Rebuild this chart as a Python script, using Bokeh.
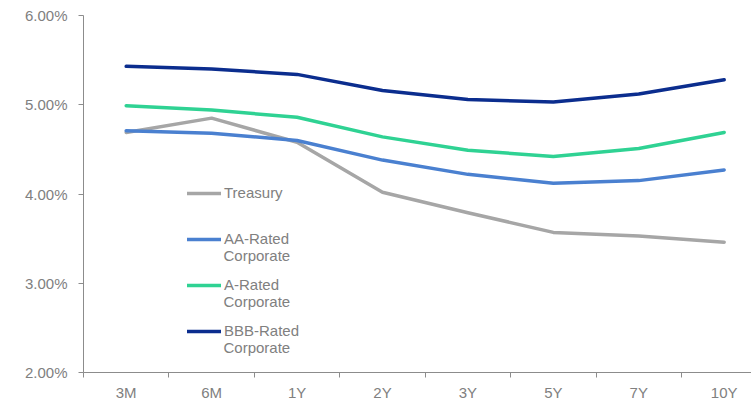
from bokeh.plotting import figure
from bokeh.models import Range1d, FixedTicker, PrintfTickFormatter, Legend, LegendItem, Label
from bokeh.embed import file_html
from bokeh.resources import INLINE

categories = ["3M", "6M", "1Y", "2Y", "3Y", "5Y", "7Y", "10Y"]
treasury = [4.69, 4.85, 4.58, 4.02, 3.79, 3.57, 3.53, 3.46]
aa_rated = [4.71, 4.68, 4.60, 4.38, 4.22, 4.12, 4.15, 4.27]
a_rated = [4.99, 4.94, 4.86, 4.64, 4.49, 4.42, 4.51, 4.69]
bbb_rated = [5.43, 5.40, 5.34, 5.16, 5.06, 5.03, 5.12, 5.28]
y_ticks = [2, 3, 4, 5, 6]

series = [
    ("Treasury", "", treasury, "#a6a6a6"),
    ("AA-Rated", "Corporate", aa_rated, "#4a80d0"),
    ("A-Rated", "Corporate", a_rated, "#2fd293"),
    ("BBB-Rated", "Corporate", bbb_rated, "#0b2d8e"),
]

xs = list(range(len(categories)))
FH = 357

p = figure(frame_width=668, frame_height=FH, output_backend="svg", toolbar_location=None,
           x_range=Range1d(-0.5, 7.32), y_range=Range1d(2, 6),
           min_border_left=83, min_border_right=0, min_border_top=15, min_border_bottom=0)
p.outline_line_color = None
p.xgrid.visible = False
p.ygrid.visible = False
p.background_fill_color = "white"
p.border_fill_color = "white"

axis_col = "#8c8c8c"
text_col = "#808080"
font = "Liberation Sans"
fs = "15px"

# x axis
p.xaxis.ticker = FixedTicker(ticks=xs, minor_ticks=[i - 0.5 for i in xs])
p.xaxis.major_label_overrides = {i: c for i, c in zip(xs, categories)}
p.xaxis.major_tick_out = 0
p.xaxis.major_tick_in = 0
p.xaxis.minor_tick_out = 5
p.xaxis.minor_tick_in = 0
p.xaxis.minor_tick_line_color = axis_col
p.xaxis.axis_line_color = axis_col
p.xaxis.major_label_text_color = text_col
p.xaxis.major_label_text_font = font
p.xaxis.major_label_text_font_size = fs
p.xaxis.major_label_standoff = 6

# y axis
p.yaxis.ticker = FixedTicker(ticks=y_ticks, minor_ticks=[])
p.yaxis.formatter = PrintfTickFormatter(format="%.2f%%")
p.yaxis.major_tick_out = 5
p.yaxis.major_tick_in = 0
p.yaxis.major_tick_line_color = axis_col
p.yaxis.axis_line_color = axis_col
p.yaxis.major_label_text_color = text_col
p.yaxis.major_label_text_font = font
p.yaxis.major_label_text_font_size = fs
p.yaxis.major_label_standoff = 11

# legend rows: pixel offset of each entry's line from the frame top
legend_rows = [177, 223, 269, 315]
for (name, second, vals, col), row in zip(series, legend_rows):
    r = p.line(xs, vals, line_color=col, line_width=3.5, line_join="round", line_cap="round")
    lg = Legend(items=[LegendItem(label=name, renderers=[r])],
                location=(104, FH - (row + 9)), orientation="vertical",
                background_fill_alpha=0, border_line_color=None,
                label_text_font=font, label_text_font_size=fs,
                label_text_color=text_col, glyph_width=34, glyph_height=14,
                label_standoff=3, padding=0, margin=0, spacing=0)
    p.add_layout(lg, "center")
    if second:
        p.add_layout(Label(x=140, y=FH - (row + 17), x_units="screen", y_units="screen",
                           text=second, text_font=font, text_font_size=fs,
                           text_color=text_col, text_baseline="middle", text_align="left"))

open("out.html", "w").write(file_html(p, INLINE))
